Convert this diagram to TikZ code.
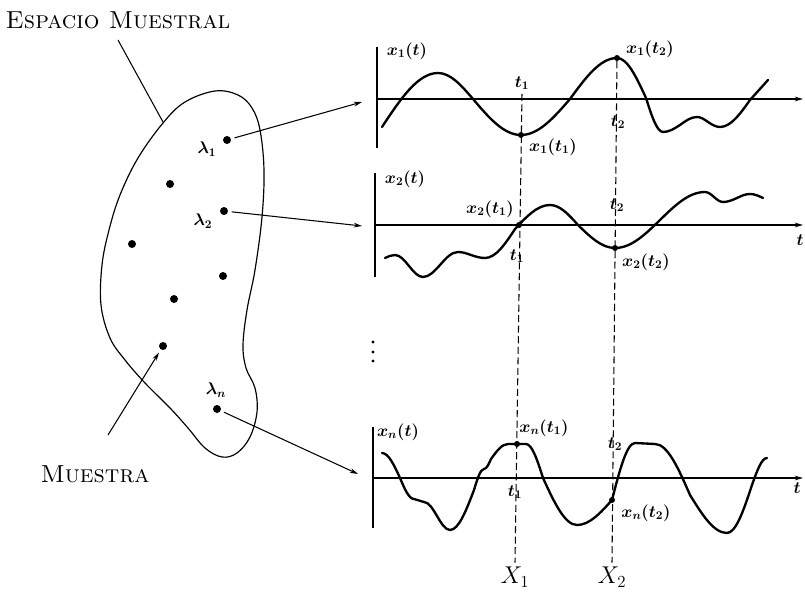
\documentclass[tikz,border=0pt]{standalone}
\usepackage{amsmath,amssymb}
\usetikzlibrary{arrows.meta}

\begin{document}
\begin{tikzpicture}[x=0.03cm,y=-0.03cm,
  punto/.style={circle,fill,inner sep=0pt,minimum size=0.24cm},
  puntito/.style={circle,fill,inner sep=0pt,minimum size=0.18cm},
  eje/.style={line width=1.1pt},
  senal/.style={line width=2pt,line join=round,line cap=round},
  flecha/.style={line width=0.9pt,-{Stealth[length=7pt,width=4pt]}},
  guia/.style={line width=0.9pt,dash pattern=on 6pt off 3pt},
  rot/.style={font=\fontsize{14}{16}\selectfont\boldmath},
  titulo/.style={font=\fontsize{21}{25}\selectfont\scshape}]
  \useasboundingbox (0,0) rectangle (805,592);

  % espacio muestral
  \draw[line width=1pt] plot[smooth cycle,tension=0.6] coordinates {(215,91) (238,95) (252,108) (260,130) (264,170) (262,217) (255,270) (247,310) (243,345) (246,368) (255,388) (257,412) (250,437) (237,453) (222,457) (205,448) (188,428) (170,408) (145,383) (125,360) (110,338) (101,305) (102,265) (109,230) (120,195) (138,158) (163,123) (185,102)};
  \node[titulo] (esp) at (118,20) {Espacio Muestral};
  \node[titulo] (mue) at (95,474) {Muestra};
  \coordinate (e0) at (118,40);
  \coordinate (b0) at (163,122);
  \coordinate (m0) at (108,435);
  \draw[line width=0.9pt] (e0) -- (b0);

  \node[punto] (lam1) at (227,140) {};
  \node[punto] (lam2) at (224,211) {};
  \node[punto] (lamn) at (217,409) {};
  \foreach \x/\y [count=\i] in {170/184,132/244,223/276,174/299,163/346}
    \node[punto] (s\i) at (\x,\y) {};
  \node[rot] at (207,149) {$\lambda_1$};
  \node[rot] at (203,221) {$\lambda_2$};
  \node[rot] at (216,390) {$\lambda_n$};
  \draw[flecha,shorten >=3pt] (m0) -- (s5);

  % ejes
  \foreach \i/\x/\y/\ya/\yb in {1/377/99/47/148,2/375/225/173/277,n/373/478/427/528}
    {
      \coordinate (o\i) at (\x,\y);
      \coordinate (f\i) at (803,\y);
      \draw[eje] (\x,\ya) -- (\x,\yb);
      \draw[eje,-{Stealth[length=7pt,width=4pt]}] (o\i) -- (f\i);
    }
  \coordinate (e1) at (362,102);
  \coordinate (e2) at (362,226);
  \coordinate (en) at (358,474);
  \draw[flecha,shorten <=3pt] (lam1) -- (e1);
  \draw[flecha,shorten <=3pt] (lam2) -- (e2);
  \draw[flecha,shorten <=3pt] (lamn) -- (en);
  \foreach \y in {342,352,361}
    \fill (373,\y) circle[radius=1.3pt];

  % funciones muestra
  \draw[senal] (382,127) sin (438,73) cos (473,99) sin (521,135) cos (570,99) sin (617,58) cos (646,98) sin (663,132) cos (680,125) sin (697,117) cos (708,122) sin (720,127) cos (750,100) -- (768,80);
  \draw[senal] (385,258) sin (395,255) cos (409,266) sin (423,277) cos (440,265) sin (458,252) cos (471,255) sin (485,258) cos (515,229) sin (550,205) cos (578,225) sin (615,248) cos (660,220) sin (705,192) cos (714,197) sin (723,202) cos (737,198) sin (750,194) cos (763,198);
  \draw[senal] (382,453) cos (400,478) sin (414,499) -- (424,502) cos (437,516) sin (450,530) cos (474,490) sin (484,469) cos (491,459) sin (508,444) -- (526,444) cos (543,478) sin (577,525) cos (612,500) sin (635,443) -- (655,444) cos (690,495) sin (727,533) cos (752,485) sin (767,458);

  \node[puntito] (p1a) at (521,135) {};
  \node[puntito] (p1b) at (617,58) {};
  \node[puntito] (p2a) at (519,225) {};
  \node[puntito] (p2b) at (615,248) {};
  \node[puntito] (pna) at (517,444) {};
  \node[puntito] (pnb) at (612,500) {};

  % rotulos
  \node[rot] at (407,51) {$x_1(t)$};
  \node[rot] at (650,49) {$x_1(t_2)$};
  \node[rot] (ta1) at (522,83) {$t_1$};
  \node[rot] at (618,122) {$t_2$};
  \node[rot] at (553,147) {$x_1(t_1)$};
  \node[rot] at (405,179) {$x_2(t)$};
  \node[rot] at (490,209) {$x_2(t_1)$};
  \node[rot] at (617,205) {$t_2$};
  \node[rot] at (517,256) {$t_1$};
  \node[rot] at (646,262) {$x_2(t_2)$};
  \node[rot] at (800,240) {$t$};
  \node[rot] at (398,432) {$x_n(t)$};
  \node[rot] at (544,428) {$x_n(t_1)$};
  \node[rot] at (615,444) {$t_2$};
  \node[rot] at (515,492) {$t_1$};
  \node[rot] at (646,513) {$x_n(t_2)$};
  \node[rot] at (797,488) {$t$};
  \node[font=\fontsize{20}{22}\selectfont] (X1) at (515,577) {$X_1$};
  \node[font=\fontsize{20}{22}\selectfont] (X2) at (612,577) {$X_2$};

  \draw[guia] (ta1.south) -- (X1.north);
  \draw[guia] (p1b) -- (X2.north);
\end{tikzpicture}
\end{document}
